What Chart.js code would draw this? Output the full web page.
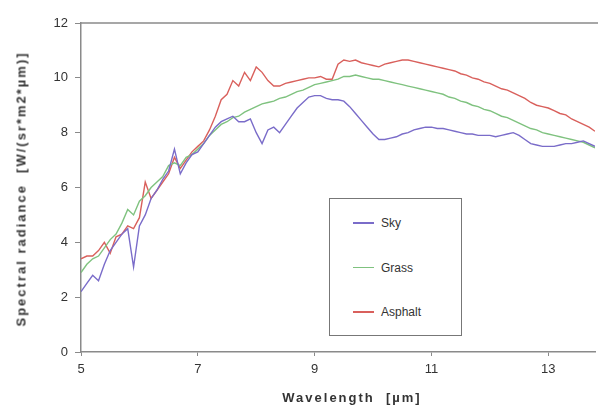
<!DOCTYPE html>
<html>
<head>
<meta charset="utf-8">
<script src="https://cdn.jsdelivr.net/npm/chart.js@4.4.0/dist/chart.umd.min.js"></script>
<style>
  html, body { margin: 0; padding: 0; background: #fff; }
  #wrap { position: relative; width: 598px; height: 407px; }
  #legend {
    position: absolute; left: 329px; top: 198px; width: 131px; height: 136px;
    border: 1.5px solid #777; background: #fff;
    font: 12px "Liberation Sans", Arial, sans-serif; color: #333;
  }
  #legend .row { position: absolute; left: 23px; height: 14px; display: flex; align-items: center; }
  #legend .line { width: 21px; height: 1.5px; margin-right: 7px; }
  .axis-title {
    position: absolute; white-space: pre; color: #333;
    font: bold 13px "Liberation Sans", Arial, sans-serif; letter-spacing: 2px;
  }
  #xTitle { left: 352px; top: 397px; transform: translate(-50%, -50%); }
  #yTitle { left: 21px; top: 189px; transform: translate(-50%, -50%) rotate(-90deg); }
</style>
</head>
<body>
<div id="wrap">
  <canvas id="myChart" width="598" height="407"></canvas>
  <div id="legend"></div>
  <div class="axis-title" id="xTitle"></div>
  <div class="axis-title" id="yTitle"></div>
</div>
<script>
// wavelength in µm
const wavelength = [
  5.0, 5.1, 5.2, 5.3, 5.4, 5.5, 5.6, 5.7, 5.8, 5.9,
  6.0, 6.1, 6.2, 6.3, 6.4, 6.5, 6.6, 6.7, 6.8, 6.9,
  7.0, 7.1, 7.2, 7.3, 7.4, 7.5, 7.6, 7.7, 7.8, 7.9,
  8.0, 8.1, 8.2, 8.3, 8.4, 8.5, 8.6, 8.7, 8.8, 8.9,
  9.0, 9.1, 9.2, 9.3, 9.4, 9.5, 9.6, 9.7, 9.8, 9.9,
  10.0, 10.1, 10.2, 10.3, 10.4, 10.5, 10.6, 10.7, 10.8, 10.9,
  11.0, 11.1, 11.2, 11.3, 11.4, 11.5, 11.6, 11.7, 11.8, 11.9,
  12.0, 12.1, 12.2, 12.3, 12.4, 12.5, 12.6, 12.7, 12.8, 12.9,
  13.0, 13.1, 13.2, 13.3, 13.4, 13.5, 13.6, 13.7, 13.8
];

const sky = [
  2.2, 2.5, 2.8, 2.6, 3.2, 3.7, 4.0, 4.3, 4.5, 3.1,
  4.6, 5.0, 5.6, 5.9, 6.3, 6.6, 7.4, 6.5, 6.9, 7.2,
  7.3, 7.6, 7.9, 8.2, 8.4, 8.5, 8.6, 8.4, 8.4, 8.5,
  8.0, 7.6, 8.1, 8.2, 8.0, 8.3, 8.6, 8.9, 9.1, 9.3,
  9.35, 9.35, 9.25, 9.2, 9.2, 9.15, 8.95, 8.7, 8.45, 8.2,
  7.95, 7.75, 7.75, 7.8, 7.85, 7.95, 8.0, 8.1, 8.15, 8.2,
  8.2, 8.15, 8.15, 8.1, 8.05, 8.0, 7.95, 7.95, 7.9, 7.9,
  7.9, 7.85, 7.9, 7.95, 8.0, 7.9, 7.75, 7.6, 7.55, 7.5,
  7.5, 7.5, 7.55, 7.6, 7.6, 7.65, 7.7, 7.6, 7.5
];

const grass = [
  2.9, 3.2, 3.4, 3.5, 3.8, 4.1, 4.3, 4.7, 5.2, 5.0,
  5.5, 5.7, 6.0, 6.2, 6.4, 6.8, 6.9, 6.8, 7.1, 7.2,
  7.4, 7.6, 7.9, 8.1, 8.3, 8.4, 8.55, 8.6, 8.75, 8.85,
  8.95, 9.05, 9.1, 9.15, 9.25, 9.3, 9.4, 9.5, 9.55, 9.65,
  9.75, 9.8, 9.85, 9.9, 9.95, 10.05, 10.05, 10.1, 10.05, 10.0,
  9.95, 9.95, 9.9, 9.85, 9.8, 9.75, 9.7, 9.65, 9.6, 9.55,
  9.5, 9.45, 9.4, 9.3, 9.25, 9.15, 9.1, 9.0, 8.95, 8.85,
  8.8, 8.7, 8.6, 8.55, 8.45, 8.35, 8.25, 8.15, 8.1, 8.0,
  7.95, 7.9, 7.85, 7.8, 7.75, 7.7, 7.65, 7.55, 7.45
];

const asphalt = [
  3.4, 3.5, 3.5, 3.7, 4.0, 3.6, 4.2, 4.3, 4.6, 4.5,
  4.9, 6.2, 5.6, 5.9, 6.2, 6.5, 7.1, 6.7, 7.0, 7.3,
  7.5, 7.7, 8.1, 8.6, 9.2, 9.4, 9.9, 9.7, 10.2, 9.9,
  10.4, 10.2, 9.9, 9.7, 9.7, 9.8, 9.85, 9.9, 9.95, 10.0,
  10.0, 10.05, 9.95, 9.95, 10.5, 10.65, 10.6, 10.65, 10.55, 10.5,
  10.45, 10.4, 10.5, 10.55, 10.6, 10.65, 10.65, 10.6, 10.55, 10.5,
  10.45, 10.4, 10.35, 10.3, 10.25, 10.15, 10.1, 10.0, 9.95, 9.85,
  9.8, 9.7, 9.6, 9.55, 9.45, 9.35, 9.25, 9.1, 9.0, 8.95,
  8.9, 8.8, 8.7, 8.65, 8.5, 8.4, 8.3, 8.2, 8.05
];

const xTicks = [5, 7, 9, 11, 13];
const yTicks = [0, 2, 4, 6, 8, 10, 12];

const seriesNames = ['Sky', 'Grass', 'Asphalt'];
const seriesColors = ['#7a6cc9', '#7fc27f', '#d9605c'];
const seriesValues = [sky, grass, asphalt];

const xTitle = 'Wavelength  [µm]';
const yTitle = 'Spectral radiance  [W/(sr*m2*µm)]';

const tickFont = { family: '"Liberation Sans", Arial, sans-serif', size: 13 };

// top border of the plot frame
const framePlugin = {
  id: 'frame',
  afterDraw(chart) {
    const { ctx, chartArea } = chart;
    ctx.save();
    ctx.strokeStyle = '#8a8a8a';
    ctx.lineWidth = 1.5;
    ctx.beginPath();
    ctx.moveTo(chartArea.left, chartArea.top);
    ctx.lineTo(chart.width, chartArea.top);
    ctx.stroke();
    ctx.restore();
  }
};

const ctx = document.getElementById('myChart').getContext('2d');
const chart = new Chart(ctx, {
  type: 'line',
  data: {
    datasets: seriesNames.map((name, i) => ({
      label: name,
      data: wavelength.map((w, j) => ({ x: w, y: seriesValues[i][j] })),
      borderColor: seriesColors[i],
      borderWidth: 1.4,
      pointRadius: 0,
      tension: 0,
      fill: false
    }))
  },
  options: {
    responsive: false,
    animation: false,
    layout: { padding: { top: 23, right: 3, left: 0, bottom: 0 } },
    plugins: { legend: { display: false }, tooltip: { enabled: false } },
    scales: {
      x: {
        type: 'linear',
        min: 5,
        max: 13.8,
        afterBuildTicks: (s) => { s.ticks = xTicks.map(v => ({ value: v })); },
        afterFit: (s) => { s.height = 55; },
        grid: { drawOnChartArea: false, drawTicks: true, tickLength: 4, color: '#8a8a8a' },
        border: { color: '#8a8a8a', width: 1.5 },
        ticks: { font: tickFont, color: '#333', padding: 6, maxRotation: 0 }
      },
      y: {
        min: 0,
        max: 12,
        afterBuildTicks: (s) => { s.ticks = yTicks.map(v => ({ value: v })); },
        afterFit: (s) => { s.width = 81; },
        grid: { drawOnChartArea: false, drawTicks: true, tickLength: 6, color: '#8a8a8a' },
        border: { color: '#8a8a8a', width: 1.5 },
        ticks: { font: tickFont, color: '#333', padding: 7 }
      }
    }
  },
  plugins: [framePlugin]
});

document.getElementById('xTitle').textContent = xTitle;
document.getElementById('yTitle').textContent = yTitle;

// legend box built from the datasets
const legend = document.getElementById('legend');
chart.data.datasets.forEach((ds, i) => {
  const row = document.createElement('div');
  row.className = 'row';
  row.style.top = (17 + i * 44.5) + 'px';
  row.innerHTML = '<span class="line" style="background:' + ds.borderColor + '"></span><span>' + ds.label + '</span>';
  legend.appendChild(row);
});
</script>
</body>
</html>
